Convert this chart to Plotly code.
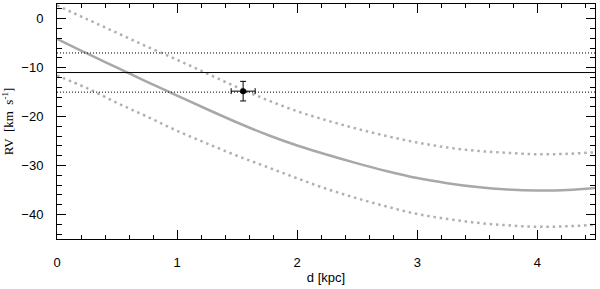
import plotly.graph_objects as go

# distance grid [kpc]
d_grid = [0, 0.25, 0.5, 0.75, 1.0, 1.25, 1.5, 1.75, 2.0, 2.25, 2.5, 2.75, 3.0, 3.25, 3.5, 3.75, 4.0, 4.25, 4.48]
rv_model = [-4.1, -7.1, -10.0, -12.9, -15.7, -18.5, -21.2, -23.7, -25.9, -27.8, -29.55, -31.15, -32.55, -33.6, -34.4, -34.9, -35.1, -35.0, -34.6]
rv_upper = [2.7, -0.1, -2.9, -5.7, -8.4, -11.2, -14.0, -16.6, -18.9, -20.8, -22.5, -24.0, -25.3, -26.3, -27.0, -27.4, -27.7, -27.6, -27.3]
rv_lower = [-11.6, -14.2, -17.2, -20.0, -22.9, -25.5, -28.0, -30.3, -32.6, -34.8, -36.7, -38.4, -39.9, -40.9, -41.7, -42.2, -42.5, -42.4, -42.1]

# observed star
star_d = [1.55]
star_rv = [-14.8]
star_d_err = [0.1]
star_rv_err = [2.0]

# mean RV and its range
rv_mean = -11.0
rv_range = [-7.0, -15.0]

x_range = [0, 4.48]
y_range = [-45, 3]

fig = go.Figure()

# model curves
fig.add_trace(go.Scatter(x=d_grid, y=rv_upper, mode="lines", line=dict(color="#b0b0b0", width=2.5, dash="2.5px,3.8px", shape="spline"), showlegend=False))
fig.add_trace(go.Scatter(x=d_grid, y=rv_lower, mode="lines", line=dict(color="#b0b0b0", width=2.5, dash="2.5px,3.8px", shape="spline"), showlegend=False))
fig.add_trace(go.Scatter(x=d_grid, y=rv_model, mode="lines", line=dict(color="#a8a8a8", width=2.5, shape="spline"), showlegend=False))

# horizontal reference lines
fig.add_trace(go.Scatter(x=x_range, y=[rv_mean, rv_mean], mode="lines", line=dict(color="black", width=1), showlegend=False))
for r in rv_range:
    fig.add_trace(go.Scatter(x=x_range, y=[r, r], mode="lines", line=dict(color="black", width=1, dash="1px,2px"), showlegend=False))

# star
fig.add_trace(go.Scatter(
    x=star_d, y=star_rv, mode="markers",
    marker=dict(color="black", size=6),
    error_x=dict(type="data", array=star_d_err, color="black", thickness=1, width=3),
    error_y=dict(type="data", array=star_rv_err, color="black", thickness=1, width=3),
    showlegend=False))

axis_common = dict(
    showgrid=False, zeroline=False, showline=True, linecolor="black", linewidth=1,
    mirror="ticks", ticks="inside", tickcolor="black", tickwidth=1, ticklen=9,
    tickfont=dict(family="Liberation Sans, Arial, sans-serif", size=13, color="black"),
    automargin=False,
)

fig.update_xaxes(
    range=x_range, dtick=1, tick0=0,
    minor=dict(dtick=0.2, ticks="inside", ticklen=4, tickcolor="black"),
    ticklabelstandoff=11,
    title=dict(text="d [kpc]", font=dict(family="Liberation Sans, Arial, sans-serif", size=13, color="black"), standoff=4),
    **axis_common)
fig.update_yaxes(
    range=y_range, dtick=10, tick0=0,
    minor=dict(dtick=2, ticks="inside", ticklen=5, tickcolor="black"),
    ticklabelstandoff=10,
    title=dict(text="RV  [km  s<sup>-1</sup>]", font=dict(family="Liberation Serif, Times New Roman, serif", size=13, color="black"), standoff=4),
    **axis_common)

fig.update_layout(
    width=600, height=289,
    margin=dict(l=57, r=5, t=4, b=50, autoexpand=False),
    plot_bgcolor="white", paper_bgcolor="white",
)

fig.write_html("out.html", config={"displayModeBar": False},
               post_script="document.body.style.margin='0';")
